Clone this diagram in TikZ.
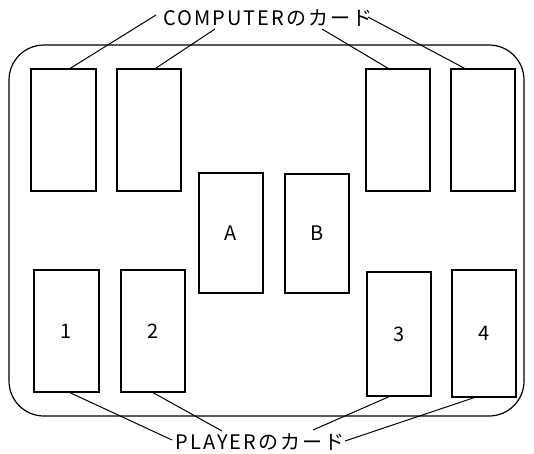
\documentclass[tikz,border=0pt]{standalone}
\usepackage{fontspec}
\setmainfont{Noto Sans CJK JP}
\newfontfamily\lbl[LetterSpace=10]{Noto Sans CJK JP}
\usetikzlibrary{calc}
\begin{document}
\begin{tikzpicture}[x=1pt,y=-1pt,
  card/.style={draw,line width=1.2pt,rectangle,inner sep=0pt,font=\fontsize{20}{20}\selectfont},
  lead/.style={line width=1pt},
  caption/.style={inner sep=0pt,font=\lbl\fontsize{20}{20}\selectfont}]
\useasboundingbox (0,0) rectangle (534,453);
\draw[line width=1.2pt,rounded corners=35pt] (9,45) rectangle (524,416);
% computer cards
\node[card,minimum width=65pt,minimum height=122pt] (c1) at (63.5,130) {};
\node[card,minimum width=64pt,minimum height=122pt] (c2) at (149,130) {};
\node[card,minimum width=64pt,minimum height=122pt] (c3) at (398,130) {};
\node[card,minimum width=64pt,minimum height=122pt] (c4) at (483,130) {};
% centre
\node[card,minimum width=64pt,minimum height=120pt] (ca) at (231,233) {A};
\node[card,minimum width=64pt,minimum height=119pt] (cb) at (317,233.5) {B};
% player cards
\node[card,minimum width=65pt,minimum height=122pt] (p1) at (66.5,331) {1};
\node[card,minimum width=64pt,minimum height=122pt] (p2) at (153,331) {2};
\node[card,minimum width=64pt,minimum height=124pt] (p3) at (399,334) {3};
\node[card,minimum width=64pt,minimum height=127pt] (p4) at (484,333.5) {4};
% labels
\node[caption] (lc) at (268,18) {COMPUTERのカード};
\node[caption] (lp) at (260,442) {PLAYERのカード};
\coordinate (lc1) at (156,15);
\coordinate (lc2) at (215,29);
\coordinate (lc3) at (322,29);
\coordinate (lc4) at (368,17);
\coordinate (lp1) at (172,440);
\coordinate (lp2) at (222,431);
\coordinate (lp3) at (313,430);
\coordinate (lp4) at (345,441);
\draw[lead] ($(c1.north west)!0.6!(c1.north east)$) -- (lc1);
\draw[lead] ($(c2.north west)!0.6!(c2.north east)$) -- (lc2);
\draw[lead] ($(c3.north west)!0.35!(c3.north east)$) -- (lc3);
\draw[lead] ($(c4.north west)!0.22!(c4.north east)$) -- (lc4);
\draw[lead] ($(p1.south west)!0.55!(p1.south east)$) -- (lp1);
\draw[lead] ($(p2.south west)!0.5!(p2.south east)$) -- (lp2);
\draw[lead] ($(p3.south west)!0.35!(p3.south east)$) -- (lp3);
\draw[lead] ($(p4.south west)!0.35!(p4.south east)$) -- (lp4);
\end{tikzpicture}
\end{document}
